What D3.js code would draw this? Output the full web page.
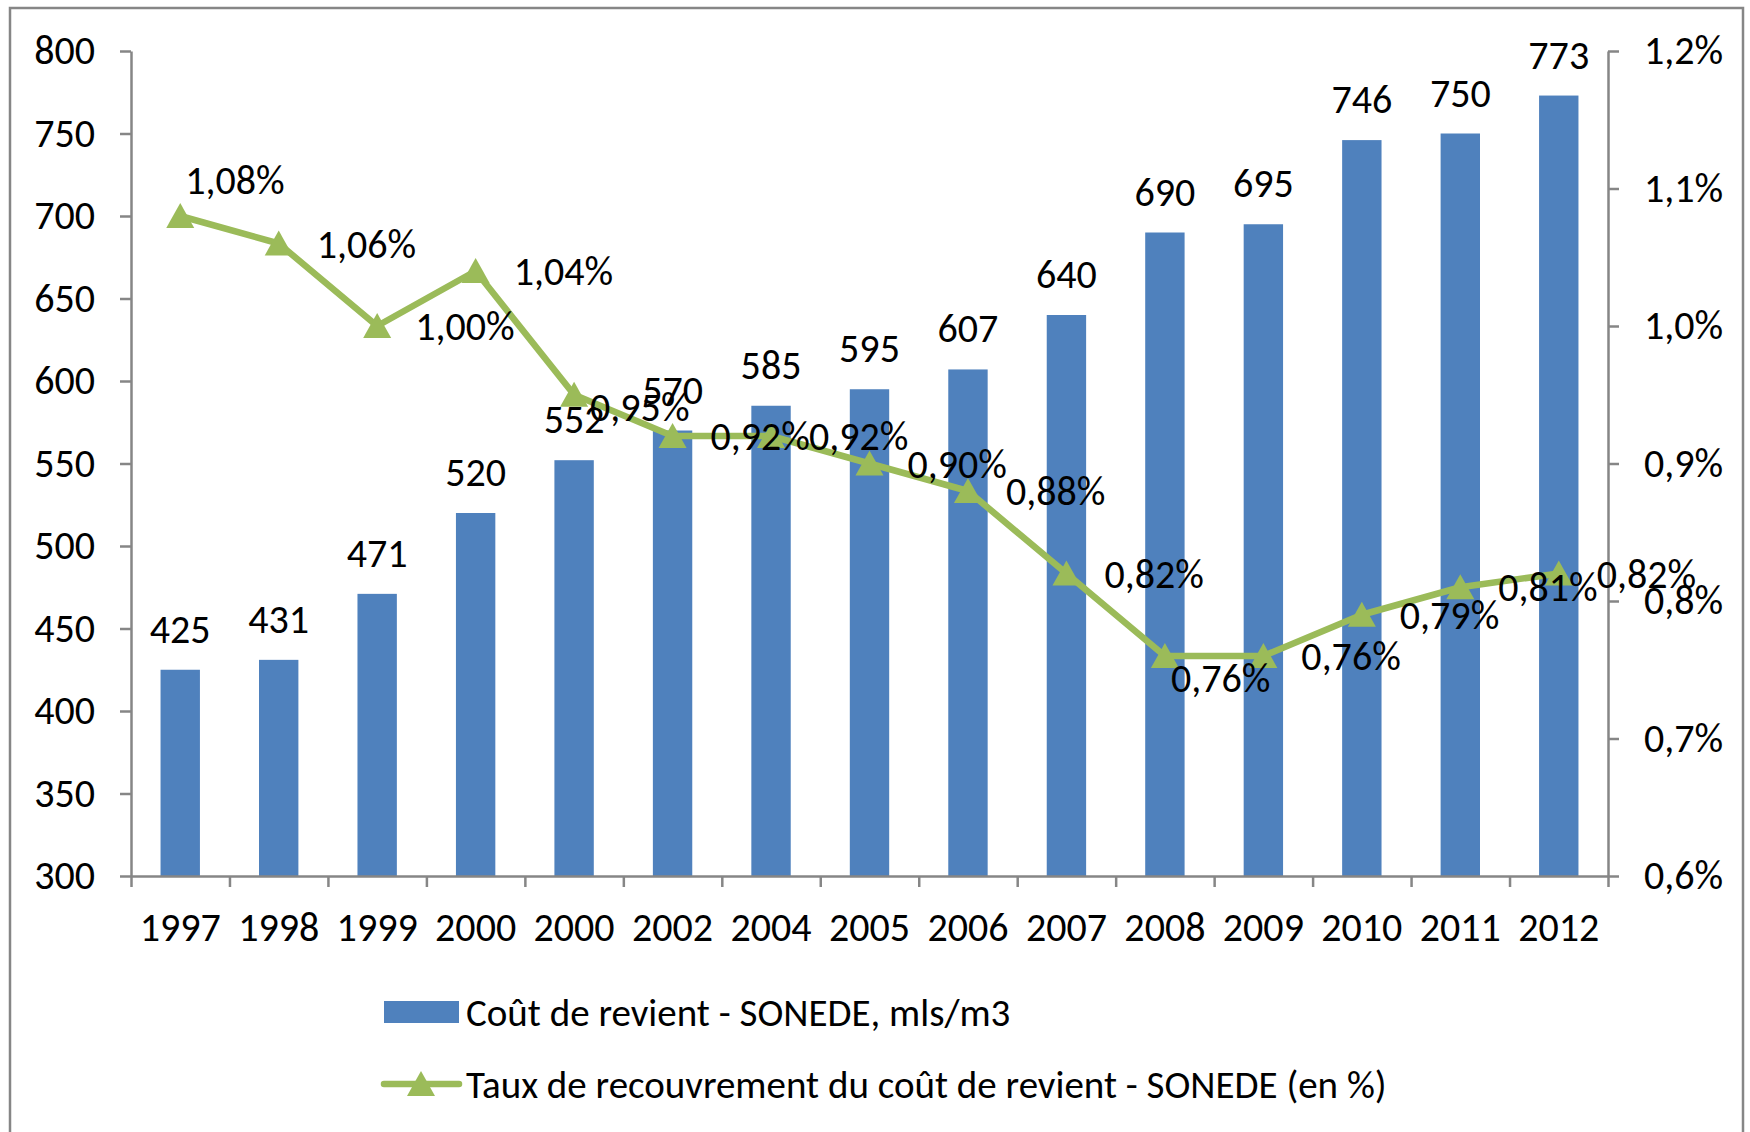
<!DOCTYPE html>
<html>
<head>
<meta charset="utf-8">
<script src="https://cdn.jsdelivr.net/npm/d3@7"></script>
<style>
  html, body { margin: 0; padding: 0; background: #fff; }
  text { font-family: "Carlito", "Liberation Sans", Arial, sans-serif; fill: #000; }
</style>
</head>
<body>
<script>
// years as printed on the chart (2000 is repeated in the source)
const years = ["1997", "1998", "1999", "2000", "2000", "2002", "2004", "2005", "2006", "2007", "2008", "2009", "2010", "2011", "2012"];
const coutRevient = [425, 431, 471, 520, 552, 570, 585, 595, 607, 640, 690, 695, 746, 750, 773];
const tauxRecouvrement = [1.08, 1.06, 1.00, 1.04, 0.95, 0.92, 0.92, 0.90, 0.88, 0.82, 0.76, 0.76, 0.79, 0.81, 0.82];
// where each percent label sits relative to its marker
const labelPlacement = ["above", "right", "right", "right", "near", "right", "right", "right", "right", "right", "below", "right", "right", "right", "right"];
const leftTicks = [300, 350, 400, 450, 500, 550, 600, 650, 700, 750, 800];
const rightTicks = [0.6, 0.7, 0.8, 0.9, 1.0, 1.1, 1.2];
const legendLabels = ["Coût de revient - SONEDE, mls/m3", "Taux de recouvrement du coût de revient - SONEDE (en %)"];

const W = 1750, H = 1132;
const blue = "#4F81BD", green = "#9BBB59", axisGrey = "#868686";
const fontSize = 40;

const fr = d3.formatLocale({ decimal: ",", thousands: " ", grouping: [3], currency: ["", " €"] });
const f1 = fr.format(".1f"), f2 = fr.format(".2f");

const svg = d3.select("body").append("svg")
  .attr("width", W).attr("height", H)
  .style("display", "block");

// outer chart border
svg.append("rect")
  .attr("x", 10).attr("y", 8)
  .attr("width", 1733).attr("height", 1140)
  .attr("fill", "none")
  .attr("stroke", axisGrey).attr("stroke-width", 2.5);

const plot = { left: 131, right: 1608, top: 51, bottom: 876 };

const x = d3.scaleBand()
  .domain(d3.range(years.length))
  .range([plot.left, plot.right])
  .paddingInner(0).paddingOuter(0);
const xEdges = d3.scaleLinear().domain([0, years.length]).range([plot.left, plot.right]);
const y = d3.scaleLinear().domain([300, 800]).range([plot.bottom, plot.top]);
const y2 = d3.scaleLinear().domain([0.6, 1.2]).range([plot.bottom, plot.top]);

const barW = x.bandwidth() * 0.4;

// bars
svg.append("g").selectAll("rect")
  .data(coutRevient)
  .join("rect")
  .attr("x", (d, i) => x(i) + (x.bandwidth() - barW) / 2)
  .attr("y", d => y(d))
  .attr("width", barW)
  .attr("height", d => y(300) - y(d))
  .attr("fill", blue);

// left axis
const gLeft = svg.append("g")
  .attr("transform", `translate(${plot.left},0)`)
  .call(d3.axisLeft(y).tickValues(leftTicks).tickSize(11).tickSizeOuter(0).tickPadding(25));

// right axis
const gRight = svg.append("g")
  .attr("transform", `translate(${plot.right},0)`)
  .call(d3.axisRight(y2).tickValues(rightTicks).tickFormat(d => f1(d) + "%").tickSize(11).tickSizeOuter(0).tickPadding(25));

// bottom axis: ticks at category edges, labels at centres
const gBottom = svg.append("g")
  .attr("transform", `translate(0,${plot.bottom})`)
  .call(d3.axisBottom(xEdges).tickValues(d3.range(years.length + 1)).tickFormat("").tickSize(11).tickSizeOuter(0));

const gLabels = svg.append("g")
  .attr("transform", `translate(0,${plot.bottom})`)
  .call(d3.axisBottom(x).tickFormat(i => years[i]).tickSize(0).tickPadding(37));
gLabels.select(".domain").remove();

[gLeft, gRight, gBottom].forEach(g => {
  g.selectAll(".domain, line").attr("stroke", axisGrey).attr("stroke-width", 2.5);
});
[gLeft, gRight, gLabels].forEach(g => {
  g.selectAll("text").attr("font-size", fontSize).attr("fill", "#000");
  g.attr("font-family", null).attr("font-size", null);
});

// bar value labels
svg.append("g").selectAll("text")
  .data(coutRevient)
  .join("text")
  .attr("x", (d, i) => x(i) + x.bandwidth() / 2)
  .attr("y", d => y(d) - 27)
  .attr("text-anchor", "middle")
  .attr("font-size", fontSize)
  .text(d => d);

// line series
const cx = i => x(i) + x.bandwidth() / 2;
const line = d3.line().x((d, i) => cx(i)).y(d => y2(d));

svg.append("path")
  .datum(tauxRecouvrement)
  .attr("d", line)
  .attr("fill", "none")
  .attr("stroke", green)
  .attr("stroke-width", 6.5)
  .attr("stroke-linejoin", "round");

const tri = (px, py) => `M${px},${py - 13}L${px + 14},${py + 12}L${px - 14},${py + 12}Z`;

svg.append("g").selectAll("path")
  .data(tauxRecouvrement)
  .join("path")
  .attr("d", (d, i) => tri(cx(i), y2(d)))
  .attr("fill", green);

// percent labels
const labelShift = {
  right: [38, 0],
  above: [5, -36],
  below: [6, 22],
  near: [16, 12]
};
svg.append("g").selectAll("text")
  .data(tauxRecouvrement)
  .join("text")
  .attr("x", (d, i) => cx(i) + labelShift[labelPlacement[i]][0])
  .attr("y", (d, i) => y2(d) + labelShift[labelPlacement[i]][1])
  .attr("dy", "0.35em")
  .attr("font-size", fontSize)
  .text(d => f2(d) + "%");

// legend
const legendFont = 39;
const lg = svg.append("g");
lg.append("rect")
  .attr("x", 384).attr("y", 1001).attr("width", 75).attr("height", 22)
  .attr("fill", blue);
lg.append("text")
  .attr("x", 466).attr("y", 1012).attr("dy", "0.35em")
  .attr("font-size", legendFont)
  .text(legendLabels[0]);

lg.append("line")
  .attr("x1", 384).attr("x2", 459).attr("y1", 1084).attr("y2", 1084)
  .attr("stroke", green).attr("stroke-width", 6.5).attr("stroke-linecap", "round");
lg.append("path").attr("d", tri(421, 1084)).attr("fill", green);
lg.append("text")
  .attr("x", 466).attr("y", 1084).attr("dy", "0.35em")
  .attr("font-size", legendFont)
  .text(legendLabels[1]);
</script>
</body>
</html>
